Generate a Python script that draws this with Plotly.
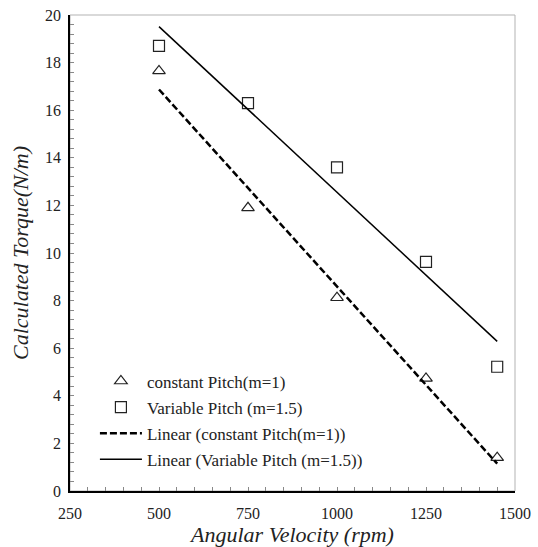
import numpy as np
import plotly.graph_objects as go

speed_rpm = [500, 750, 1000, 1250, 1450]
torque_constant = [17.65, 11.9, 8.12, 4.73, 1.40]
torque_variable = [18.7, 16.3, 13.6, 9.63, 5.22]
x_ticks = [250, 500, 750, 1000, 1250, 1500]
y_ticks = [0, 2, 4, 6, 8, 10, 12, 14, 16, 18, 20]

names = ["constant Pitch(m=1)", "Variable Pitch (m=1.5)",
         "Linear (constant Pitch(m=1))", "Linear (Variable Pitch (m=1.5))"]

xs = np.array(speed_rpm, dtype=float)
fit_c = np.polyfit(xs, torque_constant, 1)
fit_v = np.polyfit(xs, torque_variable, 1)
xl = np.array([xs.min(), xs.max()])

font = "'Liberation Serif', 'Times New Roman', serif"
fig = go.Figure()
fig.add_trace(go.Scatter(x=speed_rpm, y=torque_constant, mode="markers", name=names[0],
                         legendgroup="a",
                         marker=dict(symbol="triangle-up-open", size=11, color="#222",
                                     line=dict(width=1.2))))
fig.add_trace(go.Scatter(x=speed_rpm, y=torque_variable, mode="markers", name=names[1],
                         legendgroup="b",
                         marker=dict(symbol="square-open", size=11, color="#222",
                                     line=dict(width=1.2))))
fig.add_trace(go.Scatter(x=xl, y=np.polyval(fit_c, xl), mode="lines", name=names[2],
                         legendgroup="c",
                         line=dict(color="black", width=2.5, dash="7px,3px")))
fig.add_trace(go.Scatter(x=xl, y=np.polyval(fit_v, xl), mode="lines", name=names[3],
                         legendgroup="d",
                         line=dict(color="black", width=1.5)))

fig.add_shape(type="rect", xref="paper", yref="paper", x0=0, y0=0, x1=1, y1=1,
              line=dict(color="#b3b3b3", width=1), layer="below")

axis_common = dict(showgrid=False, zeroline=False, showline=True, linecolor="black",
                   linewidth=1.5, ticks="inside", ticklen=4, tickcolor="#888",
                   automargin=False,
                   tickfont=dict(family=font, size=16, color="#222"))
fig.update_xaxes(range=[250, 1500], tickvals=x_ticks, ticklabelstandoff=7,
                 minor=dict(dtick=50, ticks="inside", ticklen=4, tickcolor="#888"),
                 title=dict(text="<i>Angular Velocity (rpm)</i>", standoff=4,
                            font=dict(family=font, size=22, color="#222")),
                 **axis_common)
fig.update_yaxes(range=[0, 20], tickvals=y_ticks, ticklabelstandoff=4,
                 minor=dict(dtick=0.4, ticks="inside", ticklen=4, tickcolor="#888"),
                 title=dict(text="<i>Calculated Torque(N/m)</i>", standoff=10,
                            font=dict(family=font, size=22, color="#222")),
                 **axis_common)
fig.update_layout(
    width=538, height=547,
    margin=dict(l=70, r=23, t=15, b=56),
    plot_bgcolor="white", paper_bgcolor="white",
    font=dict(family=font, color="#222"),
    legend=dict(x=0.056, y=0.268, xanchor="left", yanchor="top", itemwidth=42,
                bgcolor="rgba(0,0,0,0)", tracegroupgap=1,
                font=dict(family=font, size=17, color="#222")),
)
fig.write_html("out.html")
